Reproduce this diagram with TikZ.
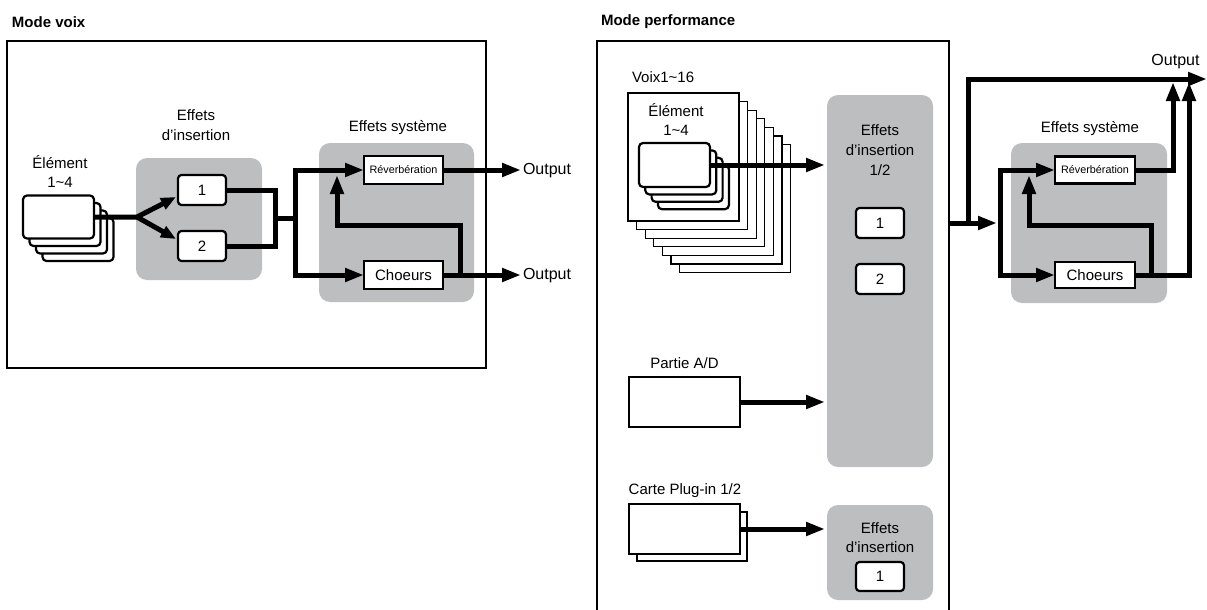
\documentclass[tikz,border=0pt]{standalone}
\usepackage{fontspec}
\setmainfont{Liberation Sans}
\usetikzlibrary{arrows.meta,calc}
\definecolor{grp}{RGB}{188,190,192}
\begin{document}
\begin{tikzpicture}[x=1pt,y=-1pt,
  font=\fontsize{15}{19.5}\selectfont,
  every node/.style={inner sep=0pt, outer sep=0pt},
  title/.style={font=\fontsize{15}{18}\selectfont\bfseries, anchor=west},
  outlbl/.style={font=\fontsize{16}{19}\selectfont},
  panel/.style={draw, line width=1.6pt},
  grpbox/.style={fill=grp, rounded corners=11pt},
  fxbox/.style={draw, line width=2.2pt, fill=white, rounded corners=3.5pt, minimum width=48pt, minimum height=30pt},
  revbox/.style={draw, line width=2.2pt, fill=white, minimum width=79pt, minimum height=28pt},
  card/.style={draw, line width=2.2pt, fill=white, rounded corners=4pt, minimum width=71pt, minimum height=43pt},
  sheet/.style={draw, line width=1.1pt, fill=white},
  wire/.style={line width=5pt},
  flow/.style={line width=5pt, -{Triangle[length=19pt,width=13pt]}},
  flowsm/.style={line width=5pt, -{Triangle[length=15pt,width=12pt]}},
  lbl/.style={align=center},
  small/.style={font=\fontsize{10.8}{12}\selectfont}
]
\useasboundingbox (0,0) rectangle (1207,610);

% ================= Mode voix =================
\node[title] (t1) at (12,22) {Mode voix};
\node[panel, minimum width=479pt, minimum height=327pt] (pv) at (246.5,204.5) {};

\node[lbl] (el1) at (60,171.5) {Élément\\1\textasciitilde4};
\foreach \k in {3,2,1,0}
  \node[card] (ec\k) at (58.5+6.5*\k, 217+7.5*\k) {};

\node[grpbox, minimum width=126pt, minimum height=122pt] (ins1) at (199,219) {};
\node[lbl, font=\fontsize{15}{20}\selectfont] (ins1l) at (196,125) {Effets\\d’insertion};
\node[fxbox] (b1) at (202,190) {1};
\node[fxbox] (b2) at (202,246) {2};

\coordinate (j1) at (137,217);
\coordinate (t1a) at (176,197);
\coordinate (t2a) at (176,239);
\draw[flowsm] (ec0.east) -- (j1) -- (t1a);
\draw[flowsm] (j1) -- (t2a);

\coordinate (m1) at (275,218);
\coordinate (m2) at (295,218);
\draw[wire] (b1.east) -| (m1) |- (b2.east);
\draw[wire] (m1) -- (m2);

\node[grpbox, minimum width=155pt, minimum height=159pt] (sys1) at (396.5,222.5) {};
\node (sys1l) at (398,128) {Effets système};
\node[revbox, small] (rev1) at (403.5,170) {Réverbération};
\node[revbox] (cho1) at (403.5,275) {Choeurs};

\draw[flow] (m2) |- (rev1.west);
\draw[flow] (m2) |- (cho1.west);

\coordinate (fbA) at (460,225);
\coordinate (fbB) at (337,225);
\coordinate (fbT) at (337,175);
\draw[flow] (cho1.east -| fbA) -- (fbA) -- (fbB) -- (fbT);

\node[outlbl, anchor=west] (out1) at (523,171) {Output};
\node[outlbl, anchor=west] (out2) at (523,276) {Output};
\draw[flow, shorten >=2pt] (rev1.east) -- (rev1.east -| out1.west);
\draw[flow, shorten >=2pt] (cho1.east) -- (cho1.east -| out2.west);

% ================= Mode performance =================
\node[title] (t2) at (601,22) {Mode performance};
\draw[panel] (597,612) -- (597,41) -- (949,41) -- (949,612);

\node[anchor=west] (vx) at (632,77) {Voix1\textasciitilde16};
\foreach \k in {6,5,...,0}
  \node[sheet, minimum width=111pt, minimum height=128pt] (pg\k) at (683.5+8.6*\k, 157+8.6*\k) {};
\node[lbl] (pgl) at (676,119.5) {Élément\\1\textasciitilde4};
\foreach \k in {3,2,1,0}
  \node[card, minimum height=44pt] (vc\k) at (674.5+6.3*\k, 165+7.4*\k) {};

\node[grpbox, minimum width=106pt, minimum height=372pt] (ins2) at (880,281) {};
\node[lbl, font=\fontsize{15}{20}\selectfont] (ins2l) at (880,150) {Effets\\d’insertion\\1/2};
\node[fxbox] (p1) at (880,223) {1};
\node[fxbox] (p2) at (880,279) {2};
\draw[flow, shorten >=2pt] (vc0.east) -- (vc0.east -| ins2.west);

\node (adl) at (684.5,363) {Partie A/D};
\node[sheet, minimum width=111pt, minimum height=50pt] (ad) at (684.5,402) {};
\draw[flow, shorten >=2pt] (ad.east) -- (ad.east -| ins2.west);

\node (pll) at (685,491) {Carte Plug-in 1/2};
\node[sheet, minimum width=110pt, minimum height=49pt] (pgb) at (692,536.5) {};
\node[sheet, minimum width=111pt, minimum height=50pt] (pgf) at (684.5,529) {};

\node[grpbox, minimum width=106pt, minimum height=95pt] (ins3) at (880,552.5) {};
\node[lbl] (ins3l) at (880,537.5) {Effets\\d’insertion};
\node[fxbox, minimum height=29pt] (q1) at (880,576.5) {1};
\draw[flow, shorten >=2pt] (pgf.east) -- (pgf.east -| ins3.west);

% system effects (right)
\node[grpbox, minimum width=156pt, minimum height=160pt] (sys2) at (1089,223) {};
\node (sys2l) at (1090,129) {Effets système};
\node[revbox, small, minimum width=80pt, minimum height=27pt] (rev2) at (1095,170) {Réverbération};
\node[revbox, minimum width=80pt, minimum height=26pt] (cho2) at (1095,275) {Choeurs};

\coordinate (s0) at (949,223);
\coordinate (br) at (968,223);
\coordinate (sa) at (997,223);
\coordinate (sv) at (1000,223);
\coordinate (oR) at (1207,79);
\draw[flow] (s0) -- (sa);
\draw[flow] (br) |- (oR);
\node[outlbl] (out3) at (1175.5,62) {Output};

\draw[flow] (sv) |- (rev2.west);
\draw[flow] (sv) |- (cho2.west);

\coordinate (fb2a) at (1151,225);
\coordinate (fb2b) at (1029,225);
\coordinate (fb2t) at (1029,175);
\draw[flow] (cho2.east -| fb2a) -- (fb2a) -- (fb2b) -- (fb2t);

\coordinate (ru) at (1173,82);
\coordinate (cu) at (1189,82);
\draw[flow] (rev2.east) -| (ru);
\draw[flow] (cho2.east) -| (cu);
\end{tikzpicture}
\end{document}
